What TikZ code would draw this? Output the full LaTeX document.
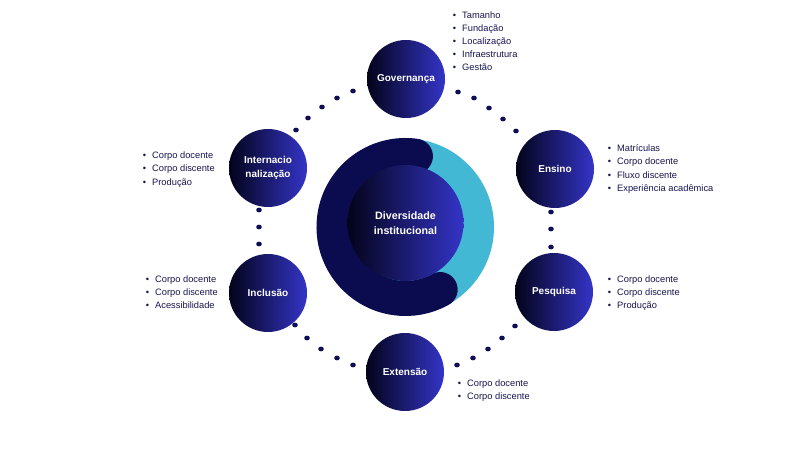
\documentclass[tikz,border=0pt]{standalone}
\usepackage{fontspec}
\setmainfont{Liberation Sans}
\definecolor{gdark}{HTML}{03031A}
\definecolor{gblue}{HTML}{3434C8}
\definecolor{ringdark}{HTML}{0B0B50}
\definecolor{ringteal}{HTML}{42B8D5}
\definecolor{dotc}{HTML}{0E0E55}
\definecolor{listc}{HTML}{16164F}
\begin{document}
\begin{tikzpicture}[x=1pt,y=1pt,
  topic/.style={circle, minimum size=78pt, inner sep=0pt, left color=gdark, right color=gblue, text=white, font=\fontsize{10}{14}\selectfont\bfseries, align=center},
  hub/.style={circle, minimum size=116pt, inner sep=0pt, left color=gdark, right color=gblue, text=white, font=\fontsize{10.7}{15.5}\selectfont\bfseries, align=center},
  item/.style={anchor=base west, inner sep=0pt, text=listc, font=\fontsize{9.3}{13}\selectfont},
  dotm/.style={fill=dotc}]
\fill[white] (0,0) rectangle (812,457);
\useasboundingbox (0,0) rectangle (812,457);

% connector dots
\foreach \p in {(458,365),(474,359),(489,349),(503,338),(516,326),
                (551,245),(551,228),(551,210),
                (457,92),(473,99),(488,108),(502,119),(515,131),
                (295,132),(307,119),(321,108),(337,99),(353,92),
                (259,247),(259,230),(259,213),
                (353,366),(337,359),(322,350),(308,339),(296,327)}
  \fill[dotm] \p ellipse (2.8 and 2.4);

% central ring
\coordinate (C) at (405.5,230);
\fill[ringteal] (C) circle (88.5);
\draw[ringdark, line width=35pt, line cap=round] (C) ++(82:71.5) arc[start angle=82, end angle=299, radius=71.5];
\node[hub] (div) at (405.5,234) {Diversidade\\institucional};

% topic circles
\node[topic] (gov) at (406,378) {Governança};
\node[topic] (ens) at (555,288) {Ensino};
\node[topic] (pes) at (554,165) {Pesquisa};
\node[topic] (ext) at (405,85) {Extensão};
\node[topic] (inc) at (268,164) {Inclusão};
\node[topic] (int) at (268,289) {Internacio\\nalização};

% bullet lists
\foreach \t [count=\i from 0] in {Tamanho,Fundação,Localização,Infraestrutura,Gestão}
  \node[item] (govl\i) at (462,438.5-13*\i) {\llap{•\hspace{6pt}}\t};
\foreach \t [count=\i from 0] in {Matrículas,Corpo docente,Fluxo discente,Experiência acadêmica}
  \node[item] (ensl\i) at (617,305.5-13.3*\i) {\llap{•\hspace{6pt}}\t};
\foreach \t [count=\i from 0] in {Corpo docente,Corpo discente,Produção}
  \node[item] (pesl\i) at (617,174.5-13*\i) {\llap{•\hspace{6pt}}\t};
\foreach \t [count=\i from 0] in {Corpo docente,Corpo discente}
  \node[item] (extl\i) at (467,70.5-13*\i) {\llap{•\hspace{6pt}}\t};
\foreach \t [count=\i from 0] in {Corpo docente,Corpo discente,Acessibilidade}
  \node[item] (incl\i) at (155,174.5-13*\i) {\llap{•\hspace{6pt}}\t};
\foreach \t [count=\i from 0] in {Corpo docente,Corpo discente,Produção}
  \node[item] (intl\i) at (152,298.5-13.5*\i) {\llap{•\hspace{6pt}}\t};
\end{tikzpicture}
\end{document}
